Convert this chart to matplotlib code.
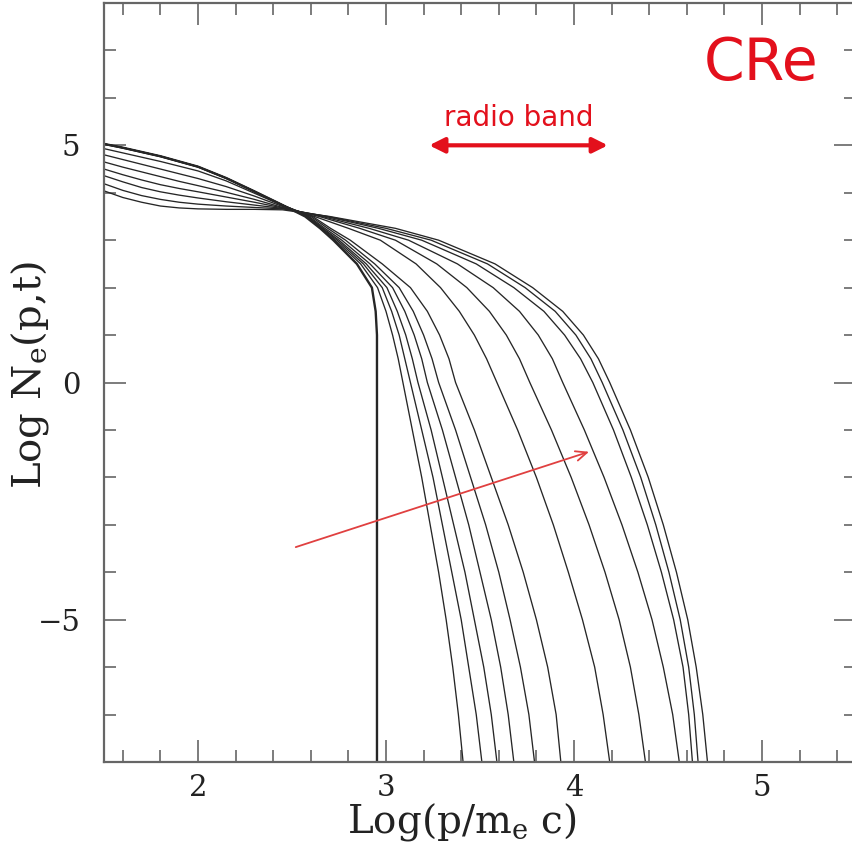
import matplotlib
matplotlib.use("Agg")
import matplotlib.pyplot as plt
from matplotlib.ticker import MultipleLocator

plt.rcParams['mathtext.fontset'] = 'dejavuserif'

# ---------------- data ----------------
# left part of each spectrum: y values on a common x grid
LEFT_X = [1.5, 1.6, 1.7, 1.8, 1.9, 2.0, 2.15, 2.3, 2.45]
# right part of each spectrum: x values on a common y grid
RIGHT_Y = [3.5, 3.25, 3.0, 2.5, 2.0, 1.5, 1.0, 0.5, 0.0, -1, -2, -3, -4, -5, -6, -7, -8]

# initial spectrum (sharp cut-off)
init_left = [5.03, 4.95, 4.86, 4.77, 4.66, 4.55, 4.31, 4.03, 3.74]
init_right = [2.57, 2.65, 2.72, 2.845, 2.925, 2.945, 2.952, 2.952, 2.952, 2.952, 2.952,
              2.952, 2.952, 2.952, 2.952, 2.952, 2.952]

# evolved spectra (time increases downwards in the list)
curves_left = [
    [5.03, 4.95, 4.86, 4.77, 4.66, 4.55, 4.31, 4.03, 3.74],
    [5.03, 4.95, 4.86, 4.77, 4.66, 4.55, 4.31, 4.03, 3.74],
    [5.03, 4.95, 4.86, 4.77, 4.66, 4.55, 4.31, 4.03, 3.74],
    [5.03, 4.95, 4.86, 4.77, 4.66, 4.55, 4.31, 4.03, 3.74],
    [5.02, 4.94, 4.85, 4.76, 4.65, 4.54, 4.30, 4.02, 3.74],
    [4.93, 4.84, 4.75, 4.66, 4.56, 4.46, 4.25, 3.99, 3.73],
    [4.80, 4.70, 4.60, 4.50, 4.40, 4.30, 4.13, 3.93, 3.71],
    [4.65, 4.54, 4.44, 4.34, 4.24, 4.15, 4.01, 3.86, 3.69],
    [4.50, 4.38, 4.27, 4.17, 4.09, 4.02, 3.91, 3.80, 3.68],
    [4.36, 4.23, 4.11, 4.02, 3.95, 3.89, 3.81, 3.74, 3.67],
    [4.19, 4.05, 3.94, 3.86, 3.80, 3.76, 3.72, 3.69, 3.66],
    [4.04, 3.90, 3.80, 3.72, 3.68, 3.66, 3.65, 3.65, 3.64],
]
curves_right = [
    [2.575, 2.655, 2.73, 2.865, 2.955, 3.00, 3.035, 3.065, 3.09, 3.14, 3.19, 3.235, 3.28, 3.32, 3.355, 3.385, 3.41],
    [2.58, 2.66, 2.74, 2.88, 2.98, 3.03, 3.07, 3.10, 3.13, 3.19, 3.25, 3.30, 3.35, 3.40, 3.44, 3.48, 3.51],
    [2.585, 2.665, 2.75, 2.895, 3.005, 3.06, 3.105, 3.14, 3.17, 3.24, 3.30, 3.36, 3.42, 3.47, 3.52, 3.56, 3.59],
    [2.59, 2.675, 2.765, 2.915, 3.035, 3.10, 3.15, 3.19, 3.22, 3.30, 3.37, 3.44, 3.50, 3.56, 3.61, 3.65, 3.68],
    [2.60, 2.69, 2.785, 2.94, 3.07, 3.145, 3.20, 3.245, 3.28, 3.37, 3.45, 3.53, 3.60, 3.66, 3.715, 3.76, 3.79],
    [2.61, 2.705, 2.81, 2.98, 3.13, 3.22, 3.285, 3.335, 3.37, 3.47, 3.56, 3.65, 3.73, 3.80, 3.86, 3.905, 3.93],
    [2.62, 2.80, 2.97, 3.16, 3.29, 3.39, 3.47, 3.535, 3.59, 3.70, 3.80, 3.89, 3.97, 4.045, 4.11, 4.155, 4.19],
    [2.645, 2.86, 3.05, 3.27, 3.43, 3.55, 3.64, 3.71, 3.765, 3.88, 3.985, 4.08, 4.165, 4.24, 4.30, 4.345, 4.38],
    [2.66, 2.91, 3.12, 3.38, 3.57, 3.71, 3.81, 3.885, 3.94, 4.055, 4.16, 4.255, 4.34, 4.415, 4.475, 4.525, 4.56],
    [2.68, 2.96, 3.19, 3.48, 3.68, 3.84, 3.95, 4.035, 4.10, 4.21, 4.305, 4.39, 4.465, 4.53, 4.58, 4.61, 4.63],
    [2.69, 3.00, 3.24, 3.54, 3.74, 3.90, 4.01, 4.09, 4.15, 4.26, 4.355, 4.435, 4.505, 4.565, 4.61, 4.64, 4.66],
    [2.70, 3.05, 3.28, 3.58, 3.78, 3.94, 4.05, 4.13, 4.19, 4.30, 4.395, 4.475, 4.545, 4.605, 4.65, 4.685, 4.71],
]

X_TICKS = [2, 3, 4, 5]
Y_TICKS = [-5, 0, 5]
BAND_X = (3.23, 4.18)
BAND_Y = 5.0
TIME_ARROW = ((2.52, -3.47), (4.08, -1.46))

# ---------------- figure ----------------
W, H = 852, 861
fig = plt.figure(figsize=(W / 100, H / 100), dpi=100)
ax = fig.add_axes([104 / W, 99 / H, (856 - 104) / W, (762 - 3) / H])
ax.set_xlim(1.5, 5.5)
ax.set_ylim(-8, 8)

line_col = '#262626'
for ly, rx in zip(curves_left, curves_right):
    ax.plot(LEFT_X + rx, ly + RIGHT_Y, color=line_col, lw=0.95,
            solid_joinstyle='round', solid_capstyle='round')
ax.plot(LEFT_X + init_right, init_left + RIGHT_Y, color=line_col, lw=1.7,
        solid_joinstyle='round')

# axes styling
spine_col = '#666666'
for s in ax.spines.values():
    s.set_color(spine_col)
    s.set_linewidth(1.6)
ax.xaxis.set_minor_locator(MultipleLocator(0.2))
ax.yaxis.set_minor_locator(MultipleLocator(1))
ax.set_xticks(X_TICKS)
ax.set_yticks(Y_TICKS)
ax.tick_params(which='both', direction='in', top=True, right=True, color=spine_col, width=1.2)
ax.tick_params(which='major', length=16)
ax.tick_params(which='minor', length=8.5)
ax.tick_params(axis='x', which='major', pad=9)
ax.tick_params(axis='y', which='major', pad=17)
for lab in ax.get_xticklabels() + ax.get_yticklabels():
    lab.set_family('DejaVu Serif')
    lab.set_fontsize(21)
    lab.set_color('#222222')

ax.set_xlabel(r'Log(p/m$_\mathrm{e}$ c)', family='DejaVu Serif', fontsize=28, color='#222222')
ax.xaxis.set_label_coords(0.476, -0.052)
ax.set_ylabel(r'Log N$_\mathrm{e}$(p,t)', family='DejaVu Serif', fontsize=29, color='#222222')
ax.yaxis.set_label_coords(-0.07, 0.51)

# annotations
red = '#e3101c'
ax.text(4.995, 6.72, 'CRe', color=red, fontsize=42, ha='center', va='center', family='DejaVu Sans')
ax.text(sum(BAND_X) / 2, 5.57, 'radio band', color=red, fontsize=20, ha='center', va='center',
        family='DejaVu Sans')
ax.annotate('', xy=(BAND_X[1], BAND_Y), xytext=(BAND_X[0], BAND_Y),
            arrowprops=dict(arrowstyle='<|-|>,head_length=0.9,head_width=0.45', color=red, lw=3.0,
                            shrinkA=0, shrinkB=0))
ax.annotate('', xy=TIME_ARROW[1], xytext=TIME_ARROW[0],
            arrowprops=dict(arrowstyle='->,head_length=0.8,head_width=0.35', color='#e04040', lw=1.3,
                            shrinkA=0, shrinkB=0))

fig.savefig('out.png', dpi=100)
